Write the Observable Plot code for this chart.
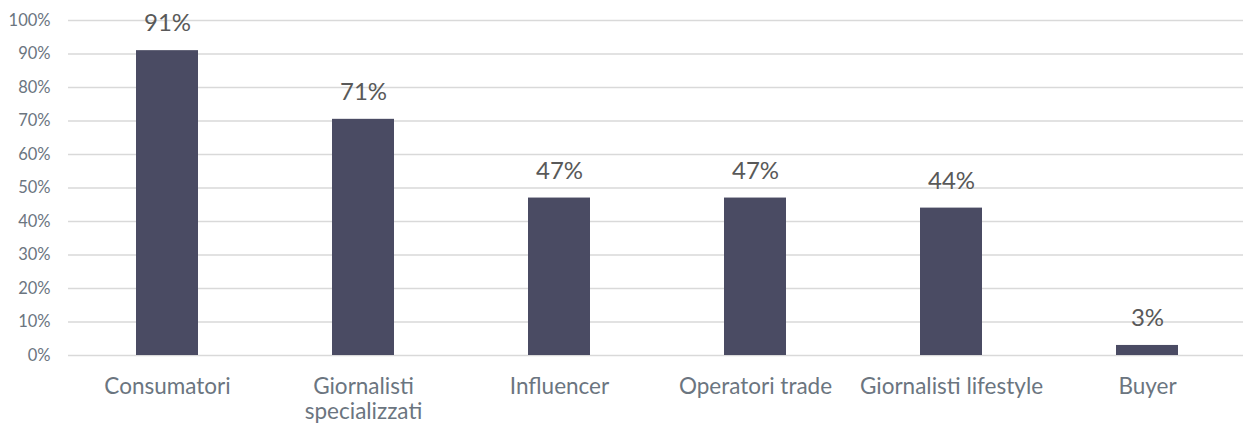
<!DOCTYPE html>
<html>
<head>
<meta charset="utf-8">
<script src="https://cdn.jsdelivr.net/npm/d3@7"></script>
<script src="https://cdn.jsdelivr.net/npm/@observablehq/plot@0.6"></script>
<style>
  html, body { margin: 0; padding: 0; background: #ffffff; }
  #chart { width: 1243px; height: 426px; overflow: hidden; }
</style>
</head>
<body>
<div id="chart"></div>
<script>
const categories = ["Consumatori", "Giornalisti specializzati", "Influencer", "Operatori trade", "Giornalisti lifestyle", "Buyer"];
const categoryLabels = ["Consumatori", "Giornalisti\nspecializzati", "Influencer", "Operatori trade", "Giornalisti lifestyle", "Buyer"];
const values = [0.91, 0.705, 0.47, 0.47, 0.44, 0.03];
const valueLabels = ["91%", "71%", "47%", "47%", "44%", "3%"];
const yTicks = [0, 0.1, 0.2, 0.3, 0.4, 0.5, 0.6, 0.7, 0.8, 0.9, 1.0];
const yTickLabels = ["0%", "10%", "20%", "30%", "40%", "50%", "60%", "70%", "80%", "90%", "100%"];

const data = categories.map((c, i) => ({category: c, value: values[i], label: valueLabels[i]}));
const font = "Lato, 'Open Sans', sans-serif";

const chart = Plot.plot({
  width: 1243,
  height: 426,
  marginLeft: 68,
  marginRight: 0,
  marginTop: 20,
  marginBottom: 71,
  style: {fontFamily: font, background: "#ffffff"},
  x: {domain: categories, range: [68, 1246], paddingInner: 0.684, paddingOuter: 0.341, axis: null},
  y: {domain: [0, 1], axis: null},
  marks: [
    Plot.ruleY(yTicks, {stroke: "#d9d9d9", strokeWidth: 1.5}),
    Plot.axisY(yTicks, {
      tickSize: 0, tickPadding: 18,
      tickFormat: (d, i) => yTickLabels[yTicks.indexOf(d)],
      fontSize: 16.5, fill: "#6b757f", label: null
    }),
    Plot.barY(data, {x: "category", y: "value", fill: "#4a4b63"}),
    Plot.text(data, {
      x: "category", y: "value", text: "label", dy: -27,
      fontSize: 24, fill: "#595959"
    }),
    Plot.axisX(categories, {
      tickSize: 0, tickPadding: 21,
      tickFormat: d => categoryLabels[categories.indexOf(d)],
      fontSize: 22.5, lineHeight: 1.1, fill: "#6b7580", label: null
    })
  ]
});
document.getElementById("chart").appendChild(chart);
</script>
</body>
</html>
